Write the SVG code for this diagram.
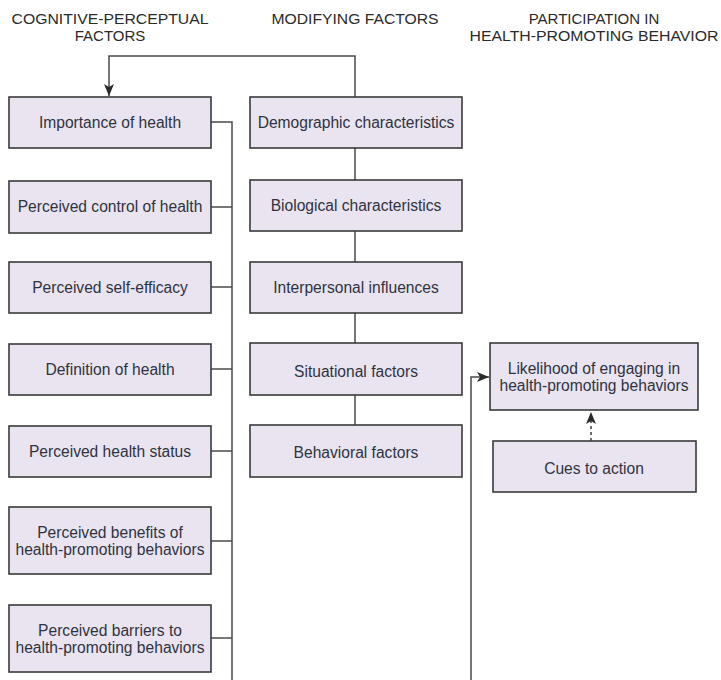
<svg xmlns="http://www.w3.org/2000/svg" width="721" height="680" viewBox="0 0 721 680">
  <style>
    .box { fill: #e9e4f0; stroke: #3a3a3a; stroke-width: 1.6; }
    .lbl { font-family: "Liberation Sans", Arial, sans-serif; font-size: 15.6px; fill: #2f3340; text-anchor: middle; }
    .hdr { font-family: "Liberation Sans", Arial, sans-serif; font-size: 15px; fill: #2a2a2a; text-anchor: middle; }
    .ln { fill: none; stroke: #4a4a4a; stroke-width: 1.5; }
    .dash { fill: none; stroke: #4a4a4a; stroke-width: 1.6; stroke-dasharray: 3 3; }
  </style>
  <defs>
    <marker id="arr" viewBox="0 0 12 10" refX="12" refY="5" markerWidth="12" markerHeight="10" markerUnits="userSpaceOnUse" orient="auto">
      <path d="M0,0 L12,5 L0,10 L3,5 Z" fill="#2a2a2a"/>
    </marker>
  </defs>
  <rect width="721" height="680" fill="#ffffff"/>

  <!-- column headings -->
  <g id="headings">
    <text class="hdr" x="110" y="24" textLength="197" lengthAdjust="spacingAndGlyphs">COGNITIVE-PERCEPTUAL</text>
    <text class="hdr" x="110" y="41">FACTORS</text>
    <text class="hdr" x="355" y="24" textLength="167" lengthAdjust="spacingAndGlyphs">MODIFYING FACTORS</text>
    <text class="hdr" x="594" y="24">PARTICIPATION IN</text>
    <text class="hdr" x="594" y="41" textLength="249" lengthAdjust="spacingAndGlyphs">HEALTH-PROMOTING BEHAVIOR</text>
  </g>

  <!-- connectors -->
  <g id="connectors">
    <!-- modifying factors feed back to cognitive-perceptual factors -->
    <path class="ln" d="M355,97 V56 H109 V96" marker-end="url(#arr)"/>
    <!-- spine linking the modifying factors -->
    <path class="ln" d="M355,148 V425"/>
    <!-- bus from the cognitive-perceptual factors -->
    <path class="ln" d="M211,122 H232 V680"/>
    <path class="ln" d="M211,207 H232"/>
    <path class="ln" d="M211,287 H232"/>
    <path class="ln" d="M211,369 H232"/>
    <path class="ln" d="M211,451 H232"/>
    <path class="ln" d="M211,541 H232"/>
    <path class="ln" d="M211,638 H232"/>
    <!-- into likelihood of engaging -->
    <path class="ln" d="M471,680 V377 H489" marker-end="url(#arr)"/>
    <!-- cues to action (dashed) -->
    <path class="dash" d="M591,441 V412" marker-end="url(#arr)"/>
  </g>

  <!-- cognitive-perceptual factors -->
  <g id="importance-of-health">
    <rect class="box" x="9" y="97" width="202" height="51"/>
    <text class="lbl" x="110" y="128">Importance of health</text>
  </g>
  <g id="perceived-control">
    <rect class="box" x="9" y="181" width="202" height="52"/>
    <text class="lbl" x="110" y="212">Perceived control of health</text>
  </g>
  <g id="perceived-self-efficacy">
    <rect class="box" x="9" y="262" width="202" height="51"/>
    <text class="lbl" x="110" y="293">Perceived self-efficacy</text>
  </g>
  <g id="definition-of-health">
    <rect class="box" x="9" y="344" width="202" height="51"/>
    <text class="lbl" x="110" y="375">Definition of health</text>
  </g>
  <g id="perceived-health-status">
    <rect class="box" x="9" y="426" width="202" height="51"/>
    <text class="lbl" x="110" y="457">Perceived health status</text>
  </g>
  <g id="perceived-benefits">
    <rect class="box" x="9" y="507" width="202" height="67"/>
    <text class="lbl" x="110" y="538">Perceived benefits of</text>
    <text class="lbl" x="110" y="555">health-promoting behaviors</text>
  </g>
  <g id="perceived-barriers">
    <rect class="box" x="9" y="605" width="202" height="67"/>
    <text class="lbl" x="110" y="636">Perceived barriers to</text>
    <text class="lbl" x="110" y="653">health-promoting behaviors</text>
  </g>

  <!-- modifying factors -->
  <g id="demographic">
    <rect class="box" x="250" y="97" width="212" height="51"/>
    <text class="lbl" x="356" y="128">Demographic characteristics</text>
  </g>
  <g id="biological">
    <rect class="box" x="250" y="180" width="212" height="51"/>
    <text class="lbl" x="356" y="211">Biological characteristics</text>
  </g>
  <g id="interpersonal">
    <rect class="box" x="250" y="262" width="212" height="51"/>
    <text class="lbl" x="356" y="293">Interpersonal influences</text>
  </g>
  <g id="situational">
    <rect class="box" x="250" y="343" width="212" height="52"/>
    <text class="lbl" x="356" y="377">Situational factors</text>
  </g>
  <g id="behavioral">
    <rect class="box" x="250" y="425" width="212" height="52"/>
    <text class="lbl" x="356" y="458">Behavioral factors</text>
  </g>

  <!-- participation in health-promoting behavior -->
  <g id="likelihood">
    <rect class="box" x="490" y="343" width="208" height="67"/>
    <text class="lbl" x="594" y="374">Likelihood of engaging in</text>
    <text class="lbl" x="594" y="391">health-promoting behaviors</text>
  </g>
  <g id="cues-to-action">
    <rect class="box" x="493" y="441" width="203" height="51"/>
    <text class="lbl" x="594" y="474">Cues to action</text>
  </g>
</svg>
